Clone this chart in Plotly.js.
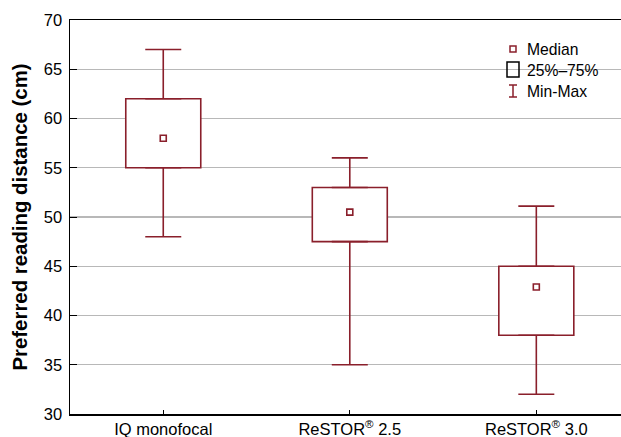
<!DOCTYPE html>
<html>
<head>
<meta charset="utf-8">
<script src="https://cdn.plot.ly/plotly-3.0.1.min.js"></script>
<style>html,body{margin:0;padding:0;background:#fff;}#chart{width:621px;height:437px;}</style>
</head>
<body>
<div id="chart"></div>
<script>
// ---- data ----
var categories = ["IQ monofocal", "ReSTOR<sup>®</sup> 2.5", "ReSTOR<sup>®</sup> 3.0"];
var minVals    = [48, 35, 32];
var q1Vals     = [55, 47.5, 38];
var medianVals = [58, 50.5, 42.9];
var q3Vals     = [62, 53, 45];
var maxVals    = [67, 56, 51.1];
var legendLabels = ["Median", "25%–75%", "Min-Max"];

// ---- style ----
var RED = "#8a1f2b";
var FONT = "Liberation Sans, Arial, sans-serif";

var boxHeights = q3Vals.map(function(v, i){ return v - q1Vals[i]; });
var upperLen = maxVals.map(function(v, i){ return v - q3Vals[i]; });
var lowerLen = q1Vals.map(function(v, i){ return v - minVals[i]; });
var zeros = categories.map(function(){ return 0; });

var traces = [
  { type: "bar", x: categories, y: boxHeights, base: q1Vals, width: 0.402,
    marker: { color: "#ffffff", line: { color: RED, width: 1.6 } },
    hoverinfo: "skip", showlegend: false },
  { type: "scatter", mode: "markers", x: categories, y: q3Vals,
    marker: { size: 1, color: "rgba(0,0,0,0)" },
    error_y: { type: "data", symmetric: false, array: upperLen, arrayminus: zeros,
               color: RED, thickness: 1.6, width: 18 },
    showlegend: false, hoverinfo: "skip" },
  { type: "scatter", mode: "markers", x: categories, y: q1Vals,
    marker: { size: 1, color: "rgba(0,0,0,0)" },
    error_y: { type: "data", symmetric: false, array: zeros, arrayminus: lowerLen,
               color: RED, thickness: 1.6, width: 18 },
    showlegend: false, hoverinfo: "skip" },
  { type: "scatter", mode: "markers", x: categories, y: medianVals,
    marker: { symbol: "square-open", size: 6, color: RED, line: { width: 1.6, color: RED } },
    showlegend: false }
];

// legend geometry (pixel -> paper)
var L = 70, T = 20, W = 551, H = 394;
function px(x){ return (x - L) / W; }
function py(y){ return (T + H - y) / H; }

var shapes = [
  { type: "rect", xref: "paper", yref: "paper", x0: px(510), x1: px(516), y0: py(52), y1: py(46),
    line: { color: RED, width: 1.5 }, fillcolor: "rgba(0,0,0,0)" },
  { type: "rect", xref: "paper", yref: "paper", x0: px(507), x1: px(519), y0: py(77), y1: py(62),
    line: { color: "#000000", width: 1.5 }, fillcolor: "rgba(0,0,0,0)" },
  { type: "path", xref: "paper", yref: "paper",
    path: "M" + px(509) + "," + py(85) + " L" + px(517) + "," + py(85) +
          " M" + px(513) + "," + py(85) + " L" + px(513) + "," + py(97) +
          " M" + px(509) + "," + py(97) + " L" + px(517) + "," + py(97),
    line: { color: RED, width: 1.5 } }
];

var legendY = [49, 70.5, 91];
var annotations = legendLabels.map(function(t, i){
  return { text: t, xref: "paper", yref: "paper", x: px(525), y: py(legendY[i]),
           xanchor: "left", yanchor: "middle", showarrow: false,
           font: { family: FONT, size: 15.7, color: "#000" } };
});

var layout = {
  width: 621, height: 437,
  margin: { l: 70, r: 0, t: 20, b: 23, pad: 0 },
  paper_bgcolor: "#fff", plot_bgcolor: "#fff",
  font: { family: FONT, size: 16.5, color: "#000" },
  showlegend: false,
  bargap: 0,
  xaxis: {
    type: "category", range: [-0.5, 2.454], automargin: false,
    showline: true, linecolor: "#000", linewidth: 1.5, mirror: true,
    ticks: "inside", ticklen: 4, tickcolor: "#000", tickwidth: 1,
    showgrid: false, zeroline: false, fixedrange: true,
    tickfont: { family: FONT, size: 16.5, color: "#000" }
  },
  yaxis: {
    range: [30, 70], dtick: 5, automargin: false,
    showline: true, linecolor: "#000", linewidth: 1.5,
    ticks: "inside", ticklen: 7, tickcolor: "#000", tickwidth: 1,
    showgrid: true, gridcolor: "#b8b8b8", gridwidth: 1.2,
    zeroline: false, fixedrange: true,
    tickfont: { family: FONT, size: 16.5, color: "#000" },
    ticklabelstandoff: 3,
    title: { text: "<b>Preferred reading distance (cm)</b>", standoff: 10,
             font: { family: FONT, size: 20.4, color: "#000" } }
  },
  shapes: shapes,
  annotations: annotations
};

Plotly.newPlot("chart", traces, layout, { displayModeBar: false, staticPlot: true });
</script>
</body>
</html>
